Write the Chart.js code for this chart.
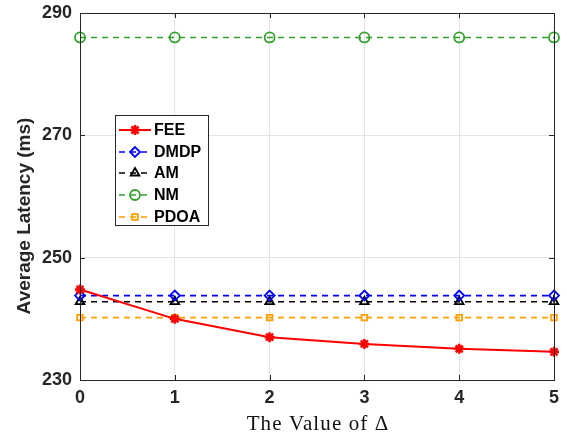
<!DOCTYPE html>
<html>
<head>
<meta charset="utf-8">
<script src="https://cdn.jsdelivr.net/npm/chart.js@4/dist/chart.umd.min.js"></script>
<style>
  html, body { margin: 0; padding: 0; background: #fff; }
  #wrap { width: 567px; height: 434px; }
</style>
</head>
<body>
<div id="wrap"><canvas id="latencyChart" width="567" height="434"></canvas></div>
<script>
// values
const deltas = [0, 1, 2, 3, 4, 5];
const yTicks = [230, 250, 270, 290];
const feeVals = [244.8, 240.0, 237.0, 235.9, 235.1, 234.6];
const dmdpVals = [243.8, 243.8, 243.8, 243.8, 243.8, 243.8];
const amVals = [242.8, 242.8, 242.8, 242.8, 242.8, 242.8];
const nmVals = [286, 286, 286, 286, 286, 286];
const pdoaVals = [240.2, 240.2, 240.2, 240.2, 240.2, 240.2];

const seriesNames = ['FEE', 'DMDP', 'AM', 'NM', 'PDOA'];
const seriesVals = [feeVals, dmdpVals, amVals, nmVals, pdoaVals];
const colors = ['#ff0000', '#0000ff', '#000000', '#33a02c', '#ff9f00'];
const markers = ['star', 'rectRot', 'triangle', 'circle', 'rect'];
const markerSize = [5, 5, 5, 5, 4];

const sansFont = '"Liberation Sans", Arial, sans-serif';

const datasets = seriesNames.map((name, i) => ({
    label: name,
    data: deltas.map((d, j) => ({ x: d, y: seriesVals[i][j] })),
    borderColor: colors[i],
    backgroundColor: i === 0 ? colors[i] : 'rgba(0,0,0,0)',
    borderWidth: i === 0 ? 2 : 1.6,
    borderDash: i === 0 ? [] : [6, 5],
    pointStyle: markers[i],
    pointRadius: markerSize[i],
    pointBorderWidth: i === 0 ? 2.5 : 1.8,
    pointBorderColor: colors[i],
    pointBackgroundColor: i === 0 ? colors[i] : 'rgba(0,0,0,0)',
    tension: 0,
    clip: false
}));

// frame, inward ticks, axis titles and the legend inside the axes
const frameAndLegend = {
    id: 'frameAndLegend',
    afterDatasetsDraw(chart) {
        const { ctx, chartArea: a, scales } = chart;
        ctx.save();
        ctx.strokeStyle = '#262626';
        ctx.lineWidth = 1;
        ctx.strokeRect(a.left + 0.5, a.top + 0.5, a.right - a.left, a.bottom - a.top);
        ctx.beginPath();
        deltas.forEach(v => {
            const px = Math.round(scales.x.getPixelForValue(v)) + 0.5;
            ctx.moveTo(px, a.bottom); ctx.lineTo(px, a.bottom - 5);
            ctx.moveTo(px, a.top); ctx.lineTo(px, a.top + 5);
        });
        yTicks.forEach(v => {
            const py = Math.round(scales.y.getPixelForValue(v)) + 0.5;
            ctx.moveTo(a.left, py); ctx.lineTo(a.left + 5, py);
            ctx.moveTo(a.right, py); ctx.lineTo(a.right - 5, py);
        });
        ctx.stroke();

        // axis titles
        ctx.fillStyle = '#262626';
        ctx.textAlign = 'center';
        ctx.textBaseline = 'middle';
        ctx.save();
        ctx.translate(25, 216);
        ctx.rotate(-Math.PI / 2);
        ctx.font = 'bold 19px ' + sansFont;
        ctx.fillText('Average Latency (ms)', 0, 0);
        ctx.restore();
        ctx.font = '21px "Liberation Serif", "Times New Roman", serif';
        ctx.letterSpacing = '1.1px';
        ctx.fillStyle = '#111';
        ctx.fillText('The Value of Δ', (a.left + a.right) / 2 + 1, 424);
        ctx.letterSpacing = '0px';

        // legend box
        const lx = 115, ly = 115, lw = 93, lh = 110;
        ctx.fillStyle = '#fff';
        ctx.fillRect(lx, ly, lw, lh);
        ctx.strokeStyle = '#262626';
        ctx.lineWidth = 1;
        ctx.strokeRect(lx + 0.5, ly + 0.5, lw, lh);
        ctx.font = 'bold 16px ' + sansFont;
        ctx.textAlign = 'left';
        chart.data.datasets.forEach((ds, i) => {
            const cy = Math.round(ly + 15 + i * 21.7);
            ctx.strokeStyle = ds.borderColor;
            ctx.lineWidth = ds.borderWidth;
            ctx.setLineDash(ds.borderDash);
            ctx.beginPath();
            ctx.moveTo(lx + 4, cy);
            ctx.lineTo(lx + 36, cy);
            ctx.stroke();
            ctx.setLineDash([]);
            ctx.lineWidth = ds.pointBorderWidth;
            ctx.fillStyle = ds.pointBackgroundColor;
            Chart.helpers.drawPoint(ctx, {
                pointStyle: ds.pointStyle,
                radius: ds.pointRadius,
                rotation: 0,
                borderWidth: ds.pointBorderWidth
            }, lx + 20, cy);
            ctx.fillStyle = '#000';
            ctx.fillText(ds.label, lx + 39, cy + 1);
        });
        ctx.restore();
    }
};

new Chart(document.getElementById('latencyChart').getContext('2d'), {
    type: 'line',
    data: { datasets: datasets },
    options: {
        responsive: false,
        animation: false,
        layout: { padding: { left: 8, right: 13, top: 13, bottom: 0 } },
        plugins: { legend: { display: false }, tooltip: { enabled: false } },
        scales: {
            x: {
                type: 'linear',
                min: 0, max: 5,
                afterBuildTicks: (s) => { s.ticks = deltas.map(v => ({ value: v })); },
                afterFit: (s) => { s.height = 54; s.paddingRight = 0; },
                grid: { color: '#e3e3e3', drawTicks: false },
                border: { color: '#262626' },
                ticks: {
                    color: '#262626', padding: 9,
                    font: { family: sansFont, size: 18, weight: 'bold', lineHeight: 1 }
                }
            },
            y: {
                min: 230, max: 290,
                afterBuildTicks: (s) => { s.ticks = yTicks.map(v => ({ value: v })); },
                afterFit: (s) => { s.width = 72; s.paddingTop = 0; s.paddingBottom = 0; },
                grid: { color: '#e3e3e3', drawTicks: false },
                border: { color: '#262626' },
                ticks: {
                    color: '#262626', padding: 8,
                    font: { family: sansFont, size: 18, weight: 'bold', lineHeight: 1 }
                }
            }
        }
    },
    plugins: [frameAndLegend]
});
</script>
</body>
</html>
